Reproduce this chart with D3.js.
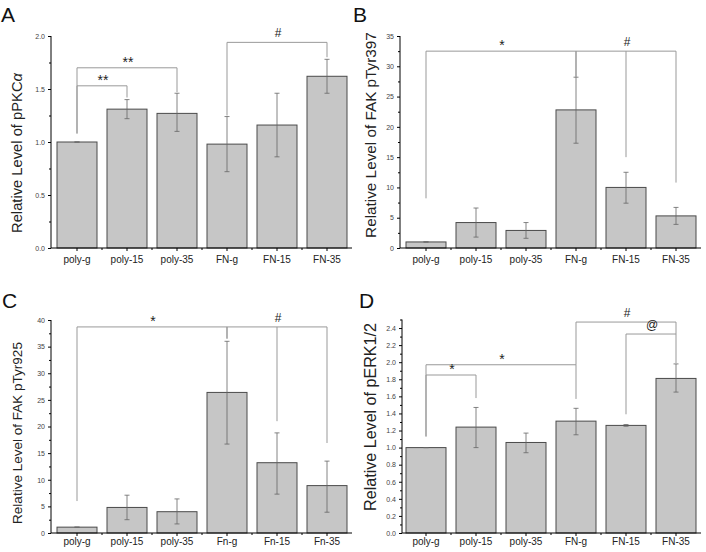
<!DOCTYPE html>
<html>
<head>
<meta charset="utf-8">
<title></title>
<style>
  body { margin: 0; background: #fff; }
  text { font-family: "Liberation Sans", Arial, sans-serif; }
</style>
</head>
<body>
<svg id="chart" width="706" height="552"></svg>

<script src="https://cdn.jsdelivr.net/npm/d3@7"></script>
<script>
// ---------------------------------------------------------------
// Data
// ---------------------------------------------------------------
const catsFN = ['poly-g', 'poly-15', 'poly-35', 'FN-g', 'FN-15', 'FN-35']
const catsFn = ['poly-g', 'poly-15', 'poly-35', 'Fn-g', 'Fn-15', 'Fn-35']

// A: pPKCa
const meanA = [1.00, 1.31, 1.27, 0.98, 1.16, 1.62]
const lowA  = [1.00, 1.22, 1.10, 0.72, 0.86, 1.46]
const highA = [1.00, 1.40, 1.46, 1.24, 1.46, 1.78]
const ticksA = [0, 0.5, 1.0, 1.5, 2.0]

// B: FAK pTyr397
const meanB = [1.0, 4.2, 2.9, 22.8, 10.0, 5.3]
const lowB  = [1.0, 1.8, 1.6, 17.3, 7.4, 3.9]
const highB = [1.0, 6.6, 4.2, 28.2, 12.5, 6.7]
const ticksB = [0, 5, 10, 15, 20, 25, 30, 35]

// C: FAK pTyr925
const meanC = [1.1, 4.8, 4.0, 26.4, 13.2, 8.9]
const lowC  = [1.1, 2.5, 1.7, 16.7, 7.3, 3.9]
const highC = [1.1, 7.1, 6.4, 36.0, 18.8, 13.5]
const ticksC = [0, 5, 10, 15, 20, 25, 30, 35, 40]

// D: pERK1/2
const meanD = [1.00, 1.24, 1.06, 1.31, 1.26, 1.81]
const lowD  = [1.00, 1.00, 0.94, 1.15, 1.25, 1.65]
const highD = [1.00, 1.47, 1.17, 1.46, 1.27, 1.98]
const ticksD = [0, 0.2, 0.4, 0.6, 0.8, 1.0, 1.2, 1.4, 1.6, 1.8, 2.0, 2.2, 2.4]

// significance brackets: [from, to, level, leftLegEnd, rightLegEnd, label, middle legs]
const bracketsA = [
  [0, 1, 1.53, 1.08, 1.42, '**', []],
  [0, 2, 1.70, 1.08, 1.47, '**', []],
  [3, 5, 1.94, 1.25, 1.80, '#', []]
]
const bracketsB = [
  [0, 3, 32.5, 8.2, 28.2, '*', []],
  [3, 5, 32.5, 28.2, 10.8, '#', [[4, 15.0]]]
]
const bracketsC = [
  [0, 3, 38.7, 6.0, 36.5, '*', []],
  [3, 5, 38.7, 36.5, 16.9, '#', [[4, 21.0]]]
]
const bracketsD = [
  [0, 1, 1.85, 1.13, 1.58, '*', []],
  [0, 3, 1.97, 1.13, 1.57, '*', []],
  [3, 5, 2.47, 1.97, 2.33, '#', []],
  [4, 5, 2.33, 1.39, 1.99, '@', []]
]

const svg = d3.select('#chart')

// ---------------------------------------------------------------
// One panel
// ---------------------------------------------------------------
function drawPanel(p) {
  const g = svg.append('g')

  const y = d3.scaleLinear().domain([0, p.ymax]).range([p.y0, p.y1])
  const x = d3.scaleBand().domain(p.cats).range([p.x0, p.x0 + 300])
    .paddingInner(0.2).paddingOuter(0.1)
  const cx = i => x(p.cats[i]) + x.bandwidth() / 2

  // bars
  g.selectAll('rect.bar')
    .data(p.mean)
    .enter()
    .append('rect')
    .attr('x', (d, i) => x(p.cats[i]))
    .attr('y', d => y(d))
    .attr('width', x.bandwidth())
    .attr('height', d => y(0) - y(d))
    .attr('fill', '#c6c6c6')
    .attr('stroke', '#4a4a4a')
    .attr('stroke-width', 1)

  // error bars
  const err = g.selectAll('g.err')
    .data(p.mean.map((d, i) => ({ i, lo: p.low[i], hi: p.high[i] })))
    .enter()
    .append('g')
    .attr('stroke', '#666')
    .attr('stroke-width', 0.8)
  err.append('line')
    .attr('x1', d => cx(d.i)).attr('x2', d => cx(d.i))
    .attr('y1', d => y(d.lo)).attr('y2', d => y(d.hi))
  err.append('line')
    .attr('x1', d => cx(d.i) - 2.5).attr('x2', d => cx(d.i) + 2.5)
    .attr('y1', d => y(d.hi)).attr('y2', d => y(d.hi))
  err.append('line')
    .attr('x1', d => cx(d.i) - 2.5).attr('x2', d => cx(d.i) + 2.5)
    .attr('y1', d => y(d.lo)).attr('y2', d => y(d.lo))

  // y axis: major + minor ticks
  const minor = []
  for (let k = 0; k < p.ticks.length - 1; k++) minor.push((p.ticks[k] + p.ticks[k + 1]) / 2)
  if (p.ymax > p.ticks[p.ticks.length - 1]) minor.push(p.ymax)

  const ax = g.append('g')
    .attr('transform', `translate(${p.ax},0)`)
    .call(d3.axisLeft(y).tickValues(p.ticks).tickFormat(d3.format(p.fmt)).tickSize(3).tickPadding(3))
  ax.select('.domain').attr('d', `M0,${y(0)}V${y(p.ymax)}`)
  ax.selectAll('text').attr('font-size', 7).attr('fill', '#444').attr('font-family', null)
  g.append('g')
    .attr('transform', `translate(${p.ax},0)`)
    .call(d3.axisLeft(y).tickValues(minor).tickFormat('').tickSize(2))
    .select('.domain').remove()

  // x axis
  const xa = g.append('g')
    .attr('transform', `translate(0,${p.y0})`)
    .call(d3.axisBottom(x).tickSize(3).tickPadding(p.xpad))
  xa.select('.domain').attr('d', `M${p.ax},0H${p.x0 + 300}`)
  xa.selectAll('text').attr('font-size', 10).attr('fill', '#222').attr('font-family', null)
  g.selectAll('line.minx')
    .data(p.cats.slice(1))
    .enter()
    .append('line')
    .attr('x1', d => x(d) - x.step() * 0.1).attr('x2', d => x(d) - x.step() * 0.1)
    .attr('y1', p.y0).attr('y2', p.y0 + 2)
    .attr('stroke', '#000')

  // significance brackets
  const bg = g.append('g').attr('stroke', '#999').attr('stroke-width', 1).attr('fill', 'none')
  p.brackets.forEach(b => {
    const [a, c, lvl, l1, l2, label, mids] = b
    bg.append('path')
      .attr('d', `M${cx(a)},${y(l1)}V${y(lvl)}H${cx(c)}V${y(l2)}`)
    mids.forEach(m => {
      bg.append('line')
        .attr('x1', cx(m[0])).attr('x2', cx(m[0]))
        .attr('y1', y(lvl)).attr('y2', y(m[1]))
    })
    const star = label === '*' || label === '**'
    g.append('text')
      .attr('x', (cx(a) + cx(c)) / 2 + 1)
      .attr('y', y(lvl) - (star ? 1 : 5))
      .attr('text-anchor', 'middle')
      .attr('font-size', star ? 14 : 12)
      .attr('fill', '#222')
      .text(label)
  })

  // y label, sized to match the original's length
  const yl = g.append('text')
    .attr('transform', `translate(${p.lx},${p.ly}) rotate(-90)`)
    .attr('text-anchor', 'middle')
    .attr('font-size', 14)
    .attr('fill', '#222')
  p.ylabel.forEach(t => {
    yl.append('tspan').attr('font-style', t[1] ? 'italic' : null).text(t[0])
  })
  const len = yl.node().getComputedTextLength()
  yl.attr('font-size', 14 * p.llen / len)

  // panel letter
  g.append('text')
    .attr('x', p.px).attr('y', p.py)
    .attr('font-size', 21)
    .attr('fill', '#111')
    .text(p.letter)
}

drawPanel({ letter: 'A', px: 1, py: 22, cats: catsFN, mean: meanA, low: lowA, high: highA,
  ticks: ticksA, ymax: 2.0, fmt: '.1f', brackets: bracketsA,
  ax: 51, x0: 52, y0: 248, y1: 36, xpad: 5,
  ylabel: [['Relative Level of pPKC', false], ['α', true]], lx: 22, ly: 153, llen: 160 })

drawPanel({ letter: 'B', px: 353, py: 22, cats: catsFN, mean: meanB, low: lowB, high: highB,
  ticks: ticksB, ymax: 35, fmt: 'd', brackets: bracketsB,
  ax: 400, x0: 401, y0: 248, y1: 36, xpad: 5,
  ylabel: [['Relative Level of FAK pTyr397', false]], lx: 376, ly: 135, llen: 206 })

drawPanel({ letter: 'C', px: 2, py: 308, cats: catsFn, mean: meanC, low: lowC, high: highC,
  ticks: ticksC, ymax: 40, fmt: 'd', brackets: bracketsC,
  ax: 51, x0: 52, y0: 533, y1: 320, xpad: 2,
  ylabel: [['Relative Level of FAK pTyr925', false]], lx: 22, ly: 433, llen: 182 })

drawPanel({ letter: 'D', px: 359, py: 308, cats: catsFN, mean: meanD, low: lowD, high: highD,
  ticks: ticksD, ymax: 2.5, fmt: '.1f', brackets: bracketsD,
  ax: 402, x0: 401, y0: 533, y1: 319.5, xpad: 2,
  ylabel: [['Relative Level of pERK1/2', false]], lx: 376, ly: 417, llen: 188 })
</script>
</body>
</html>
